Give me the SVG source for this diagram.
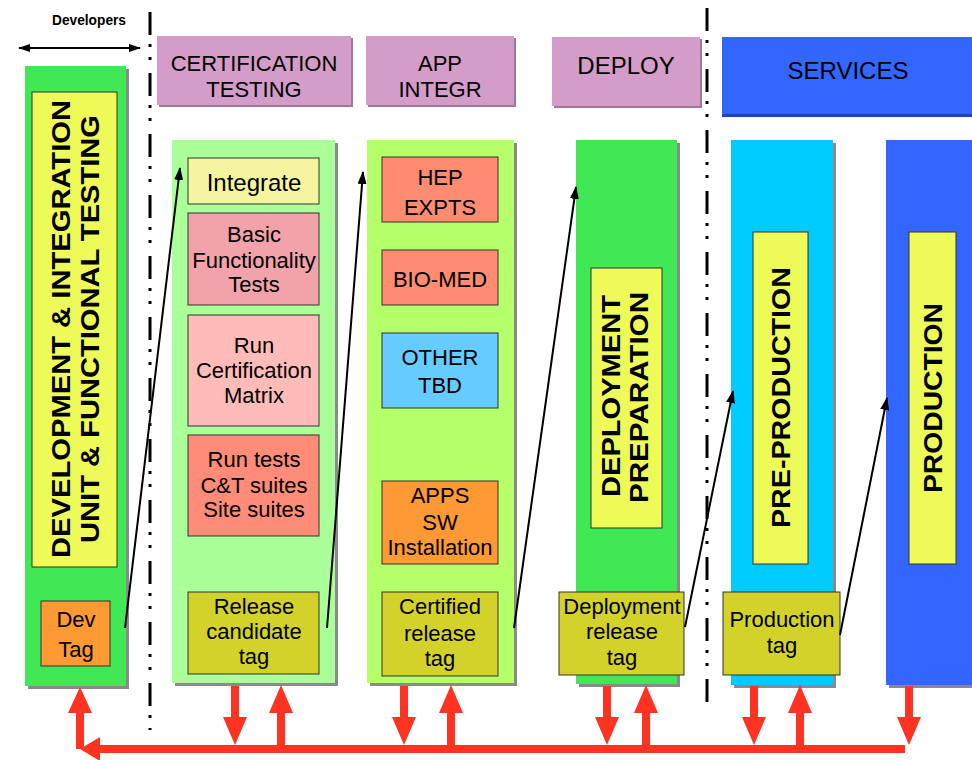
<svg xmlns="http://www.w3.org/2000/svg" width="972" height="760" viewBox="0 0 972 760">
<defs>
<style>
.t{font-family:"Liberation Sans",Arial,sans-serif;font-size:22px;fill:#000;text-anchor:middle}
.v{font-family:"Liberation Sans",Arial,sans-serif;font-size:25px;font-weight:bold;fill:#000;text-anchor:middle}
.box{stroke:#333;stroke-width:1}
.sh{fill:#8a8a8a}
.hdr{fill:#D49CC8}
.hsh{fill:#a07896}
.tag{fill:#D2D22A;stroke:#333;stroke-width:1}
.yel{fill:#EEFA58;stroke:#333;stroke-width:1}
.blk{stroke:#000;stroke-width:2;fill:none;marker-end:url(#ah)}
.red{fill:#FF3322}
.dd{stroke:#000;stroke-width:3;fill:none;stroke-dasharray:23 9 3 10 3 13}
</style>
<marker id="ah" markerWidth="13" markerHeight="9" refX="12" refY="4.5" orient="auto" markerUnits="userSpaceOnUse"><path d="M0,0 L13,4.5 L0,9 z" fill="#000"/></marker>
<marker id="ah2" markerWidth="12" markerHeight="8" refX="11" refY="4" orient="auto-start-reverse" markerUnits="userSpaceOnUse"><path d="M0,0 L12,4 L0,8 z" fill="#000"/></marker>
</defs>
<rect width="972" height="760" fill="#fff"/>

<g id="separators">
<line class="dd" x1="150" y1="12" x2="150" y2="730"/>
<line class="dd" x1="707" y1="8" x2="707" y2="705"/>
</g>

<g id="developers">
<text x="89" y="25" style="font-family:'Liberation Sans',Arial,sans-serif;font-size:14px;font-weight:bold;text-anchor:middle" textLength="74" lengthAdjust="spacingAndGlyphs">Developers</text>
<line x1="19" y1="48" x2="140" y2="48" stroke="#000" stroke-width="2" marker-start="url(#ah2)" marker-end="url(#ah2)"/>
</g>

<!-- Headers -->
<g id="hdr-cert">
<rect class="hsh" x="159" y="38" width="194" height="69"/>
<rect class="hdr" x="157" y="36" width="194" height="69"/>
<text class="t" x="254" y="71">CERTIFICATION</text>
<text class="t" x="254" y="97">TESTING</text>
</g>
<g id="hdr-app">
<rect class="hsh" x="368" y="38" width="148" height="69"/>
<rect class="hdr" x="366" y="36" width="148" height="69"/>
<text class="t" x="440" y="71">APP</text>
<text class="t" x="440" y="97">INTEGR</text>
</g>
<g id="hdr-deploy">
<rect class="hsh" x="554" y="39" width="148" height="69"/>
<rect class="hdr" x="552" y="37" width="148" height="69"/>
<text class="t" x="626" y="74" style="font-size:24px">DEPLOY</text>
</g>
<g id="hdr-services">
<rect x="722" y="37" width="250" height="80" fill="#2244BB"/>
<rect x="722" y="37" width="250" height="77" fill="#3366FF"/>
<text class="t" x="848" y="79" style="font-size:24px">SERVICES</text>
</g>

<!-- Columns -->
<g id="col-dev">
<rect class="sh" x="28" y="69" width="101" height="620"/>
<rect x="25" y="66" width="101" height="620" fill="#40E855"/>
<rect class="yel" x="32" y="92" width="85" height="475"/>
<text class="v" transform="translate(70,329) rotate(-90)" textLength="458" lengthAdjust="spacingAndGlyphs">DEVELOPMENT &amp; INTEGRATION</text>
<text class="v" transform="translate(99,329) rotate(-90)" textLength="428" lengthAdjust="spacingAndGlyphs">UNIT &amp; FUNCTIONAL TESTING</text>
</g>
<g id="dev-tag">
<rect class="box" x="41" y="601" width="69" height="65" fill="#FF9933"/>
<text class="t" x="76" y="627">Dev</text>
<text class="t" x="76" y="657">Tag</text>
</g>

<g id="col-cert">
<rect class="sh" x="175" y="143" width="163" height="543"/>
<rect x="172" y="140" width="163" height="543" fill="#AAFF99"/>
</g>
<g id="integrate">
<rect class="box" x="188" y="158" width="131" height="46" fill="#F5F5A0"/>
<text class="t" x="254" y="191" style="font-size:24px">Integrate</text>
</g>
<g id="basic">
<rect class="box" x="188" y="213" width="131" height="92" fill="#F2A2AA"/>
<text class="t" x="254" y="242">Basic</text>
<text class="t" x="254" y="268">Functionality</text>
<text class="t" x="254" y="292">Tests</text>
</g>
<g id="runcert">
<rect class="box" x="188" y="315" width="131" height="111" fill="#FFBBB8"/>
<text class="t" x="254" y="353">Run</text>
<text class="t" x="254" y="378">Certification</text>
<text class="t" x="254" y="403">Matrix</text>
</g>
<g id="runtests">
<rect class="box" x="188" y="435" width="131" height="101" fill="#FF8C78"/>
<text class="t" x="254" y="467">Run tests</text>
<text class="t" x="254" y="493">C&amp;T suites</text>
<text class="t" x="254" y="517">Site suites</text>
</g>
<g id="rc-tag">
<rect class="tag" x="188" y="592" width="131" height="82"/>
<text class="t" x="254" y="614">Release</text>
<text class="t" x="254" y="639">candidate</text>
<text class="t" x="254" y="664">tag</text>
</g>

<g id="col-app">
<rect class="sh" x="370" y="143" width="147" height="543"/>
<rect x="367" y="140" width="147" height="543" fill="#B5FF6A"/>
</g>
<g id="hep">
<rect class="box" x="382" y="157" width="116" height="65" fill="#FF8C70"/>
<text class="t" x="440" y="185">HEP</text>
<text class="t" x="440" y="215">EXPTS</text>
</g>
<g id="biomed">
<rect class="box" x="382" y="250" width="116" height="55" fill="#FF8C70"/>
<text class="t" x="440" y="287">BIO-MED</text>
</g>
<g id="other">
<rect class="box" x="382" y="333" width="116" height="75" fill="#66CCFF"/>
<text class="t" x="440" y="365">OTHER</text>
<text class="t" x="440" y="393">TBD</text>
</g>
<g id="apps">
<rect class="box" x="382" y="481" width="116" height="83" fill="#FF9933"/>
<text class="t" x="440" y="503">APPS</text>
<text class="t" x="440" y="530">SW</text>
<text class="t" x="440" y="555">Installation</text>
</g>
<g id="cert-tag">
<rect class="tag" x="382" y="592" width="116" height="84"/>
<text class="t" x="440" y="614">Certified</text>
<text class="t" x="440" y="641">release</text>
<text class="t" x="440" y="666">tag</text>
</g>

<g id="col-deploy">
<rect class="sh" x="579" y="143" width="101" height="544"/>
<rect x="576" y="140" width="101" height="544" fill="#40E855"/>
<rect class="yel" x="591" y="268" width="71" height="260"/>
<text class="v" transform="translate(620,396) rotate(-90)" textLength="202" lengthAdjust="spacingAndGlyphs">DEPLOYMENT</text>
<text class="v" transform="translate(648,397.5) rotate(-90)" textLength="211" lengthAdjust="spacingAndGlyphs">PREPARATION</text>
</g>
<g id="deploy-tag">
<rect class="tag" x="559" y="592" width="125" height="83"/>
<text class="t" x="622" y="614">Deployment</text>
<text class="t" x="622" y="639">release</text>
<text class="t" x="622" y="665">tag</text>
</g>

<g id="col-preprod">
<rect class="sh" x="734" y="143" width="102" height="545"/>
<rect x="731" y="140" width="102" height="545" fill="#00CCFF"/>
<rect class="yel" x="753" y="232" width="55" height="332"/>
<text class="v" transform="translate(790,397.5) rotate(-90)" textLength="261" lengthAdjust="spacingAndGlyphs">PRE-PRODUCTION</text>
</g>
<g id="prod-tag">
<rect class="tag" x="723" y="592" width="117" height="83"/>
<text class="t" x="782" y="627">Production</text>
<text class="t" x="782" y="653">tag</text>
</g>

<g id="col-prod">
<rect class="sh" x="889" y="143" width="83" height="545"/>
<rect x="886" y="140" width="86" height="545" fill="#3366FF"/>
<rect class="yel" x="909" y="232" width="47" height="332"/>
<text class="v" transform="translate(942,398) rotate(-90)" textLength="190" lengthAdjust="spacingAndGlyphs">PRODUCTION</text>
</g>

<g id="connectors">
<line class="blk" x1="125" y1="628" x2="180" y2="168"/>
<line class="blk" x1="327" y1="628" x2="363" y2="172"/>
<line class="blk" x1="514" y1="628" x2="576" y2="187"/>
<line class="blk" x1="685" y1="627" x2="733" y2="391"/>
<line class="blk" x1="840" y1="635" x2="887" y2="398"/>

<g class="red">
<rect x="98" y="745" width="807" height="8"/>
<path d="M80,749 L100,737 L100,761 Z"/>
<path d="M76,749 V713 H68 L80,687 L92,713 H84 V749 Z"/>
<path d="M231,686 V717 H223 L235,745 L247,717 H239 V686 Z"/>
<path d="M277,749 V713 H269 L281,685 L293,713 H285 V749 Z"/>
<path d="M400,686 V717 H392 L404,745 L416,717 H408 V686 Z"/>
<path d="M447,749 V713 H439 L451,685 L463,713 H455 V749 Z"/>
<path d="M603,686 V717 H595 L607,745 L619,717 H611 V686 Z"/>
<path d="M642,749 V713 H634 L646,685 L658,713 H650 V749 Z"/>
<path d="M750,686 V717 H742 L754,745 L766,717 H758 V686 Z"/>
<path d="M796,749 V713 H788 L800,685 L812,713 H804 V749 Z"/>
<path d="M905,686 V717 H897 L909,745 L921,717 H913 V686 Z"/>
</g>
</g>
</svg>
